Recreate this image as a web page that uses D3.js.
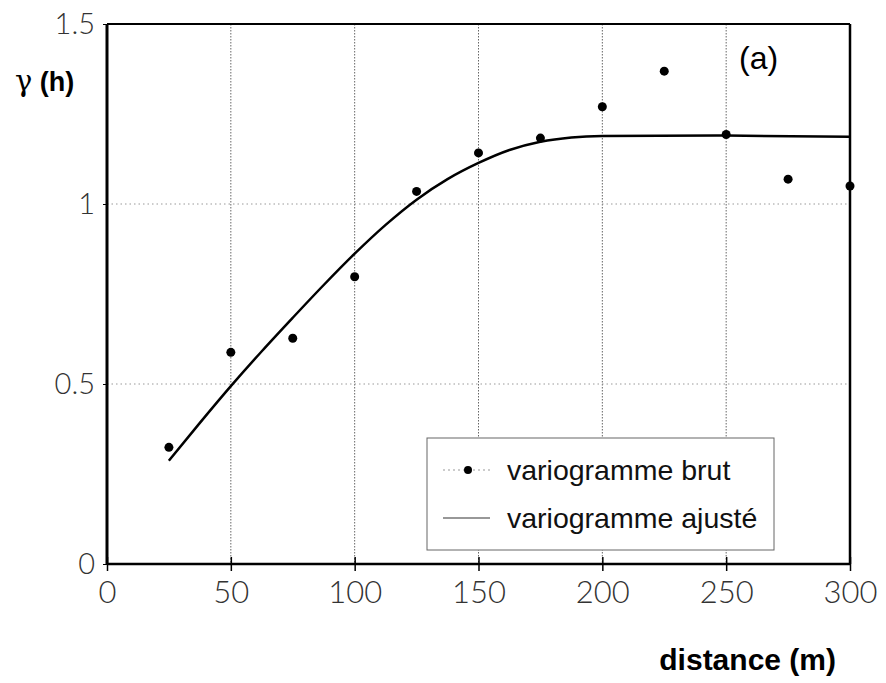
<!DOCTYPE html>
<html>
<head>
<style>
  body { margin: 0; background: #fff; }
  .tick text { font-family: Lato, "Liberation Sans", Arial, sans-serif; font-weight: 300; }
</style>
<script src="https://cdnjs.cloudflare.com/ajax/libs/d3/7.8.5/d3.min.js"></script>
</head>
<body>
<script>
  const width = 886;
  const height = 683;

  // variogramme brut (lag distance, gamma)
  const lags = [25, 50, 75, 100, 125, 150, 175, 200, 225, 250, 275, 300];
  const gammaBrut = [0.324, 0.588, 0.627, 0.798, 1.035, 1.142, 1.183, 1.270, 1.369, 1.193, 1.069, 1.050];

  // variogramme ajusté
  const fitDist = [25, 37.5, 50, 62.5, 75, 87.5, 100, 112.5, 125, 137.5, 150, 162.5, 175, 187.5, 200, 250, 300];
  const fitGamma = [0.287, 0.392, 0.494, 0.591, 0.684, 0.775, 0.862, 0.942, 1.012, 1.069, 1.114, 1.150, 1.173, 1.185, 1.189, 1.190, 1.187];

  const xTicks = [0, 50, 100, 150, 200, 250, 300];
  const yTicks = [0, 0.5, 1, 1.5];
  const legendLabels = ["variogramme brut", "variogramme ajusté"];

  const margin = { left: 107, right: 36, top: 24, bottom: 119 };

  const svg = d3.select("body").append("svg")
      .attr("width", width).attr("height", height);

  const x = d3.scaleLinear().domain([0, 300]).range([margin.left, width - margin.right]);
  const y = d3.scaleLinear().domain([0, 1.5]).range([height - margin.bottom, margin.top]);

  // dotted grid
  svg.append("g")
      .selectAll("line")
      .data(xTicks.slice(1, -1))
      .join("line")
      .attr("x1", d => x(d)).attr("x2", d => x(d))
      .attr("y1", y(1.5)).attr("y2", y(0))
      .style("stroke", "#666")
      .style("stroke-width", 1)
      .style("stroke-dasharray", "1.5,1.5");

  svg.append("g")
      .selectAll("line")
      .data(yTicks.slice(1, -1))
      .join("line")
      .attr("x1", x(0)).attr("x2", x(300))
      .attr("y1", d => y(d)).attr("y2", d => y(d))
      .style("stroke", "#999")
      .style("stroke-width", 1)
      .style("stroke-dasharray", "1.5,3");

  // axes
  const xAxis = svg.append("g")
      .attr("transform", `translate(0,${y(0)})`)
      .call(d3.axisBottom(x).tickValues(xTicks).tickSize(7).tickPadding(10));
  xAxis.select(".domain").remove();
  xAxis.selectAll(".tick line").attr("y1", -7).style("stroke-width", 1.5);
  xAxis.selectAll(".tick text")
      .style("font-size", "31px").style("fill", "#333");

  const yAxis = svg.append("g")
      .attr("transform", `translate(${x(0)},0)`)
      .call(d3.axisLeft(y).tickValues(yTicks).tickSize(4).tickPadding(8)
        .tickFormat(d => d === 1.5 ? "1.5" : d3.format("")(d)));
  yAxis.select(".domain").remove();
  yAxis.selectAll(".tick text")
      .style("font-size", "29px").style("fill", "#333");

  // frame
  svg.append("line")
      .attr("x1", x(0)).attr("x2", x(0)).attr("y1", y(1.5)).attr("y2", y(0))
      .style("stroke", "#000").style("stroke-width", 3);
  svg.append("line")
      .attr("x1", x(0)).attr("x2", x(300)).attr("y1", y(0)).attr("y2", y(0))
      .style("stroke", "#000").style("stroke-width", 2.5);
  svg.append("line")
      .attr("x1", x(0)).attr("x2", x(300)).attr("y1", y(1.5)).attr("y2", y(1.5))
      .style("stroke", "#000").style("stroke-width", 2);
  svg.append("line")
      .attr("x1", x(300)).attr("x2", x(300)).attr("y1", y(1.5)).attr("y2", y(0))
      .style("stroke", "#000").style("stroke-width", 2.5);

  // fitted curve
  const line = d3.line()
      .x((d, i) => x(fitDist[i]))
      .y(d => y(d))
      .curve(d3.curveMonotoneX);

  svg.append("path")
      .datum(fitGamma)
      .attr("d", line)
      .style("fill", "none")
      .style("stroke", "#000")
      .style("stroke-width", 2.5);

  // raw points
  svg.append("g")
      .selectAll("circle")
      .data(gammaBrut)
      .join("circle")
      .attr("cx", (d, i) => x(lags[i]))
      .attr("cy", d => y(d))
      .attr("r", 4.5)
      .style("fill", "#000");

  // legend
  const legend = svg.append("g");
  legend.append("rect")
      .attr("x", 427).attr("y", 438).attr("width", 347).attr("height", 112)
      .style("fill", "#fff").style("stroke", "#666").style("stroke-width", 1);

  legend.append("line")
      .attr("x1", 443).attr("x2", 490).attr("y1", 470).attr("y2", 470)
      .style("stroke", "#999").style("stroke-dasharray", "2,3");
  legend.append("circle")
      .attr("cx", 468).attr("cy", 470).attr("r", 4).style("fill", "#000");
  legend.append("line")
      .attr("x1", 443).attr("x2", 490).attr("y1", 518).attr("y2", 518)
      .style("stroke", "#333").style("stroke-width", 1.2);

  legend.selectAll("text")
      .data(legendLabels)
      .join("text")
      .attr("x", 507)
      .attr("y", (d, i) => 480 + i * 48)
      .text(d => d)
      .style("font-family", "Liberation Sans, Arial, sans-serif")
      .style("font-size", "28.5px")
      .style("fill", "#111");

  // labels
  const gLabel = svg.append("text")
      .attr("x", 15).attr("y", 91)
      .style("font-family", "Liberation Sans, Arial, sans-serif")
      .style("font-size", "27px").style("font-weight", "bold");
  gLabel.append("tspan")
      .style("font-family", "DejaVu Serif, serif")
      .style("font-weight", "normal")
      .style("font-size", "29px")
      .text("γ");
  gLabel.append("tspan").text(" (h)");

  svg.append("text")
      .attr("x", 739).attr("y", 69)
      .text("(a)")
      .style("font-family", "Liberation Sans, Arial, sans-serif")
      .style("font-size", "32px");

  svg.append("text")
      .attr("x", 836).attr("y", 670)
      .attr("text-anchor", "end")
      .text("distance (m)")
      .style("font-family", "Liberation Sans, Arial, sans-serif")
      .style("font-size", "30px").style("font-weight", "bold");
</script>
</body>
</html>
